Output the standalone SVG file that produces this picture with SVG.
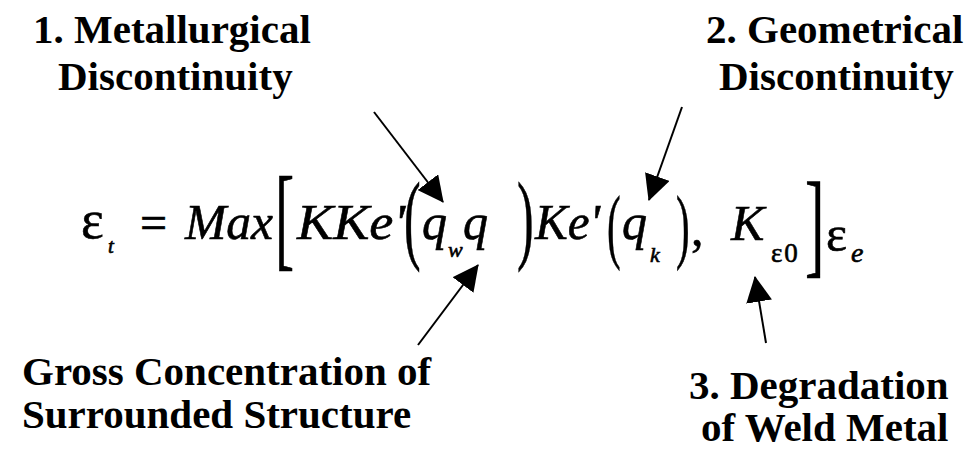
<svg xmlns="http://www.w3.org/2000/svg" width="978" height="459" viewBox="0 0 978 459">
<style>
.lbl{font-family:"Liberation Serif","Times New Roman",serif;font-weight:bold;font-size:41px;fill:#000}
.mi{font-family:"Liberation Serif","Times New Roman",serif;font-style:italic;fill:#000;stroke:#000;stroke-width:0.6}
.mu{font-family:"Liberation Serif","Times New Roman",serif;fill:#000;stroke:#000;stroke-width:0.6}
.conn{stroke:#000;stroke-width:2;fill:none;marker-end:url(#ah)}
</style>
<defs>
<marker id="ah" markerUnits="userSpaceOnUse" markerWidth="26" markerHeight="26" viewBox="0 0 24 24" refX="23" refY="12" orient="auto">
<path d="M0,0 L24,12 L0,24 z" fill="#000"/>
</marker>
</defs>
<rect width="978" height="459" fill="#fff"/>
<g id="label-metallurgical">
<text class="lbl" x="33" y="43">1. Metallurgical</text>
<text class="lbl" x="58" y="90">Discontinuity</text>
</g>
<g id="label-geometrical">
<text class="lbl" x="706" y="43">2. Geometrical</text>
<text class="lbl" x="719" y="90">Discontinuity</text>
</g>
<g id="label-gross">
<text class="lbl" x="22" y="385">Gross Concentration of</text>
<text class="lbl" x="22" y="428">Surrounded Structure</text>
</g>
<g id="label-degradation">
<text class="lbl" x="689" y="399">3. Degradation</text>
<text class="lbl" x="701" y="441">of Weld Metal</text>
</g>
<g id="formula">
<text class="mu" x="81" y="238" font-size="54">ε</text>
<text class="mi" x="108" y="253" font-size="21">t</text>
<text class="mu" x="140" y="239" font-size="48">=</text>
<text class="mi" x="185" y="239" font-size="50" textLength="88" lengthAdjust="spacingAndGlyphs">Max</text>
<text class="mu" transform="translate(275,256) scale(0.5,1)" font-size="115">[</text>
<text class="mi" x="297" y="239" font-size="50" textLength="108" lengthAdjust="spacingAndGlyphs">KKe'</text>
<text class="mu" transform="translate(404,251) scale(0.5,1)" font-size="100">(</text>
<text class="mi" x="422" y="239" font-size="50">q</text>
<text class="mi" x="448" y="257" font-size="22">w</text>
<text class="mi" x="463" y="239" font-size="50">q</text>
<text class="mu" transform="translate(517,251) scale(0.5,1)" font-size="100">)</text>
<text class="mi" x="535" y="239" font-size="50" textLength="65" lengthAdjust="spacingAndGlyphs">Ke'</text>
<text class="mu" transform="translate(607,253) scale(0.5,1)" font-size="82">(</text>
<text class="mi" x="622" y="239" font-size="50">q</text>
<text class="mi" x="650" y="262" font-size="22">k</text>
<text class="mu" transform="translate(676,253) scale(0.5,1)" font-size="82">)</text>
<text class="mu" x="691" y="245" font-size="50">,</text>
<text class="mi" x="731" y="240" font-size="50">K</text>
<text class="mu" x="771" y="262" font-size="27" letter-spacing="2">ε0</text>
<text class="mu" transform="translate(805,262) scale(0.5,1)" font-size="116">]</text>
<text class="mu" x="826" y="251" font-size="50">ε</text>
<text class="mi" x="851" y="262" font-size="28">e</text>
</g>
<g id="connectors">
<line class="conn" x1="374" y1="112" x2="443" y2="202"/>
<line class="conn" x1="682" y1="107" x2="649" y2="200"/>
<line class="conn" x1="418" y1="345" x2="478" y2="265"/>
<line class="conn" x1="766" y1="343" x2="755" y2="277"/>
</g>
</svg>
